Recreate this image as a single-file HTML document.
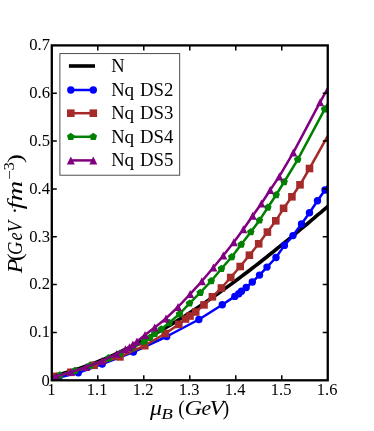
<!DOCTYPE html>
<html><head><meta charset="utf-8"><title>chart</title><style>html,body{margin:0;padding:0;background:#fff}body{width:374px;height:431px;overflow:hidden}</style></head><body>
<svg width="374" height="431" viewBox="0 0 374 431" style="display:block;will-change:transform;font-family:'Liberation Serif',serif">
<rect width="374" height="431" fill="#fff"/>
<defs><clipPath id="c"><rect x="51.80" y="45.40" width="275.95" height="334.90"/></clipPath></defs>
<g clip-path="url(#c)" fill="none" stroke-linejoin="round">
<polyline points="51.8,376.3 55.2,375.5 58.7,374.6 62.1,373.7 65.6,372.7 69.0,371.7 72.5,370.6 75.9,369.5 79.4,368.4 82.8,367.2 86.3,366.0 89.7,364.7 93.2,363.4 96.6,362.1 100.1,360.7 103.5,359.3 107.0,357.8 110.4,356.3 113.9,354.8 117.3,353.2 120.8,351.6 124.2,350.0 127.7,348.3 131.1,346.6 134.6,344.9 138.0,343.1 141.5,341.3 144.9,339.5 148.4,337.6 151.8,335.7 155.3,333.7 158.7,331.8 162.2,329.8 165.6,327.7 169.1,325.7 172.5,323.6 176.0,321.5 179.4,319.3 182.9,317.2 186.3,315.0 189.8,312.7 193.2,310.5 196.7,308.2 200.1,305.9 203.6,303.6 207.0,301.2 210.5,298.8 213.9,296.4 217.4,294.0 220.8,291.6 224.3,289.1 227.7,286.6 231.2,284.1 234.6,281.5 238.1,279.0 241.5,276.4 245.0,273.8 248.4,271.2 251.9,268.5 255.3,265.9 258.8,263.2 262.2,260.5 265.7,257.8 269.1,255.0 272.6,252.3 276.0,249.5 279.5,246.7 282.9,243.9 286.4,241.1 289.8,238.3 293.3,235.5 296.7,232.6 300.2,229.7 303.6,226.9 307.1,224.0 310.5,221.1 314.0,218.2 317.4,215.2 320.9,212.3 324.3,209.3 327.8,206.4" stroke="#000" stroke-width="3.6"/>
<polyline points="51.8,378.2 58.8,377.5 78.3,372.8 102.2,364.0 133.4,352.0 166.7,336.5 198.9,319.5 222.3,304.8 234.8,296.4 238.8,293.7 241.5,291.2 246.2,287.5 252.3,282.0 259.5,275.1 267.0,267.1 276.0,257.5 284.4,245.4 293.0,235.6 301.5,224.0 309.5,212.8 317.5,200.8 325.0,190.0 327.8,186.0" stroke="#0000ff" stroke-width="2.5"/>
<circle cx="58.8" cy="377.5" r="3.70" fill="#0000ff"/>
<circle cx="78.3" cy="372.8" r="3.70" fill="#0000ff"/>
<circle cx="102.2" cy="364.0" r="3.70" fill="#0000ff"/>
<circle cx="133.4" cy="352.0" r="3.70" fill="#0000ff"/>
<circle cx="166.7" cy="336.5" r="3.70" fill="#0000ff"/>
<circle cx="198.9" cy="319.5" r="3.70" fill="#0000ff"/>
<circle cx="222.3" cy="304.8" r="3.70" fill="#0000ff"/>
<circle cx="234.8" cy="296.4" r="3.70" fill="#0000ff"/>
<circle cx="238.8" cy="293.7" r="3.70" fill="#0000ff"/>
<circle cx="241.5" cy="291.2" r="3.70" fill="#0000ff"/>
<circle cx="246.2" cy="287.5" r="3.70" fill="#0000ff"/>
<circle cx="252.3" cy="282.0" r="3.70" fill="#0000ff"/>
<circle cx="259.5" cy="275.1" r="3.70" fill="#0000ff"/>
<circle cx="267.0" cy="267.1" r="3.70" fill="#0000ff"/>
<circle cx="276.0" cy="257.5" r="3.70" fill="#0000ff"/>
<circle cx="284.4" cy="245.4" r="3.70" fill="#0000ff"/>
<circle cx="293.0" cy="235.6" r="3.70" fill="#0000ff"/>
<circle cx="301.5" cy="224.0" r="3.70" fill="#0000ff"/>
<circle cx="309.5" cy="212.8" r="3.70" fill="#0000ff"/>
<circle cx="317.5" cy="200.8" r="3.70" fill="#0000ff"/>
<circle cx="325.0" cy="190.0" r="3.70" fill="#0000ff"/>
<polyline points="51.8,377.5 56.4,376.4 70.9,372.3 94.1,365.3 119.9,356.9 144.7,345.7 165.3,333.5 178.8,324.4 185.5,319.0 190.0,316.0 195.7,312.0 204.0,304.9 212.4,296.8 221.4,288.0 230.7,277.5 240.2,266.5 249.4,255.2 258.7,243.8 267.4,232.1 275.8,220.8 283.6,208.3 291.9,196.8 300.0,184.8 309.5,168.5 327.8,135.8" stroke="#a52a2a" stroke-width="2.5"/>
<rect x="52.6" y="372.6" width="7.6" height="7.6" fill="#a52a2a"/>
<rect x="67.1" y="368.5" width="7.6" height="7.6" fill="#a52a2a"/>
<rect x="90.3" y="361.5" width="7.6" height="7.6" fill="#a52a2a"/>
<rect x="116.1" y="353.1" width="7.6" height="7.6" fill="#a52a2a"/>
<rect x="140.9" y="341.9" width="7.6" height="7.6" fill="#a52a2a"/>
<rect x="161.5" y="329.7" width="7.6" height="7.6" fill="#a52a2a"/>
<rect x="175.0" y="320.6" width="7.6" height="7.6" fill="#a52a2a"/>
<rect x="181.7" y="315.2" width="7.6" height="7.6" fill="#a52a2a"/>
<rect x="186.2" y="312.2" width="7.6" height="7.6" fill="#a52a2a"/>
<rect x="191.9" y="308.2" width="7.6" height="7.6" fill="#a52a2a"/>
<rect x="200.2" y="301.1" width="7.6" height="7.6" fill="#a52a2a"/>
<rect x="208.6" y="293.0" width="7.6" height="7.6" fill="#a52a2a"/>
<rect x="217.6" y="284.2" width="7.6" height="7.6" fill="#a52a2a"/>
<rect x="226.9" y="273.7" width="7.6" height="7.6" fill="#a52a2a"/>
<rect x="236.4" y="262.7" width="7.6" height="7.6" fill="#a52a2a"/>
<rect x="245.6" y="251.4" width="7.6" height="7.6" fill="#a52a2a"/>
<rect x="254.9" y="240.0" width="7.6" height="7.6" fill="#a52a2a"/>
<rect x="263.6" y="228.3" width="7.6" height="7.6" fill="#a52a2a"/>
<rect x="272.0" y="217.0" width="7.6" height="7.6" fill="#a52a2a"/>
<rect x="279.8" y="204.5" width="7.6" height="7.6" fill="#a52a2a"/>
<rect x="288.1" y="193.0" width="7.6" height="7.6" fill="#a52a2a"/>
<rect x="296.2" y="181.0" width="7.6" height="7.6" fill="#a52a2a"/>
<rect x="305.7" y="164.7" width="7.6" height="7.6" fill="#a52a2a"/>
<polyline points="51.8,377.3 60.0,375.3 75.0,370.8 90.0,365.6 108.6,358.1 120.0,353.6 132.0,348.2 144.3,341.6 149.9,337.8 154.7,333.8 161.2,329.3 169.2,322.7 179.5,314.0 189.5,303.4 200.2,292.7 211.2,281.0 221.4,268.8 231.7,257.0 241.2,244.6 250.8,232.1 259.4,220.4 267.8,207.5 276.1,195.0 284.1,182.0 297.7,159.6 324.6,109.3 327.8,103.5" stroke="#008000" stroke-width="2.5"/>
<polygon points="60.0,371.3 63.8,374.0 62.4,378.5 57.6,378.5 56.2,374.0" fill="#008000"/>
<polygon points="75.0,366.8 78.8,369.6 77.4,374.1 72.6,374.1 71.2,369.6" fill="#008000"/>
<polygon points="90.0,361.6 93.8,364.4 92.4,368.8 87.6,368.8 86.2,364.4" fill="#008000"/>
<polygon points="108.6,354.1 112.4,356.9 111.0,361.4 106.2,361.4 104.8,356.9" fill="#008000"/>
<polygon points="120.0,349.6 123.8,352.4 122.4,356.8 117.6,356.8 116.2,352.4" fill="#008000"/>
<polygon points="132.0,344.2 135.8,346.9 134.4,351.4 129.6,351.4 128.2,346.9" fill="#008000"/>
<polygon points="144.3,337.6 148.1,340.4 146.7,344.8 141.9,344.8 140.5,340.4" fill="#008000"/>
<polygon points="149.9,333.8 153.7,336.6 152.3,341.0 147.5,341.0 146.1,336.6" fill="#008000"/>
<polygon points="154.7,329.8 158.5,332.6 157.1,337.0 152.3,337.0 150.9,332.6" fill="#008000"/>
<polygon points="161.2,325.3 165.0,328.1 163.6,332.5 158.8,332.5 157.4,328.1" fill="#008000"/>
<polygon points="169.2,318.7 173.0,321.5 171.6,325.9 166.8,325.9 165.4,321.5" fill="#008000"/>
<polygon points="179.5,310.0 183.3,312.8 181.9,317.2 177.1,317.2 175.7,312.8" fill="#008000"/>
<polygon points="189.5,299.4 193.3,302.2 191.9,306.6 187.1,306.6 185.7,302.2" fill="#008000"/>
<polygon points="200.2,288.7 204.0,291.5 202.6,295.9 197.8,295.9 196.4,291.5" fill="#008000"/>
<polygon points="211.2,277.0 215.0,279.8 213.6,284.2 208.8,284.2 207.4,279.8" fill="#008000"/>
<polygon points="221.4,264.8 225.2,267.6 223.8,272.0 219.0,272.0 217.6,267.6" fill="#008000"/>
<polygon points="231.7,253.0 235.5,255.8 234.1,260.2 229.3,260.2 227.9,255.8" fill="#008000"/>
<polygon points="241.2,240.6 245.0,243.4 243.6,247.8 238.8,247.8 237.4,243.4" fill="#008000"/>
<polygon points="250.8,228.1 254.6,230.9 253.2,235.3 248.4,235.3 247.0,230.9" fill="#008000"/>
<polygon points="259.4,216.4 263.2,219.2 261.8,223.6 257.0,223.6 255.6,219.2" fill="#008000"/>
<polygon points="267.8,203.5 271.6,206.3 270.2,210.7 265.4,210.7 264.0,206.3" fill="#008000"/>
<polygon points="276.1,191.0 279.9,193.8 278.5,198.2 273.7,198.2 272.3,193.8" fill="#008000"/>
<polygon points="284.1,178.0 287.9,180.8 286.5,185.2 281.7,185.2 280.3,180.8" fill="#008000"/>
<polygon points="297.7,155.6 301.5,158.4 300.1,162.8 295.3,162.8 293.9,158.4" fill="#008000"/>
<polygon points="324.6,105.3 328.4,108.1 327.0,112.5 322.2,112.5 320.8,108.1" fill="#008000"/>
<polyline points="51.8,377.3 56.4,376.2 70.9,372.1 86.1,367.0 102.0,360.9 116.7,354.0 125.5,349.2 129.5,347.3 132.9,344.6 137.0,341.4 145.0,335.0 154.7,327.4 166.0,318.4 178.0,307.0 190.1,294.1 201.8,281.3 213.4,267.5 223.3,255.5 233.8,242.2 243.4,229.3 252.7,215.7 261.4,203.5 270.2,190.0 279.3,176.4 293.3,152.6 320.1,102.2 327.8,88.4" stroke="#800080" stroke-width="2.5"/>
<polygon points="56.4,372.2 52.4,380.2 60.4,380.2" fill="#800080"/>
<polygon points="70.9,368.1 66.9,376.1 74.9,376.1" fill="#800080"/>
<polygon points="86.1,363.0 82.1,371.0 90.1,371.0" fill="#800080"/>
<polygon points="102.0,356.9 98.0,364.9 106.0,364.9" fill="#800080"/>
<polygon points="116.7,350.0 112.7,358.0 120.7,358.0" fill="#800080"/>
<polygon points="125.5,345.2 121.5,353.2 129.5,353.2" fill="#800080"/>
<polygon points="129.5,343.3 125.5,351.3 133.5,351.3" fill="#800080"/>
<polygon points="132.9,340.6 128.9,348.6 136.9,348.6" fill="#800080"/>
<polygon points="137.0,337.4 133.0,345.4 141.0,345.4" fill="#800080"/>
<polygon points="145.0,331.0 141.0,339.0 149.0,339.0" fill="#800080"/>
<polygon points="154.7,323.4 150.7,331.4 158.7,331.4" fill="#800080"/>
<polygon points="166.0,314.4 162.0,322.4 170.0,322.4" fill="#800080"/>
<polygon points="178.0,303.0 174.0,311.0 182.0,311.0" fill="#800080"/>
<polygon points="190.1,290.1 186.1,298.1 194.1,298.1" fill="#800080"/>
<polygon points="201.8,277.3 197.8,285.3 205.8,285.3" fill="#800080"/>
<polygon points="213.4,263.5 209.4,271.5 217.4,271.5" fill="#800080"/>
<polygon points="223.3,251.5 219.3,259.5 227.3,259.5" fill="#800080"/>
<polygon points="233.8,238.2 229.8,246.2 237.8,246.2" fill="#800080"/>
<polygon points="243.4,225.3 239.4,233.3 247.4,233.3" fill="#800080"/>
<polygon points="252.7,211.7 248.7,219.7 256.7,219.7" fill="#800080"/>
<polygon points="261.4,199.5 257.4,207.5 265.4,207.5" fill="#800080"/>
<polygon points="270.2,186.0 266.2,194.0 274.2,194.0" fill="#800080"/>
<polygon points="279.3,172.4 275.3,180.4 283.3,180.4" fill="#800080"/>
<polygon points="293.3,148.6 289.3,156.6 297.3,156.6" fill="#800080"/>
<polygon points="320.1,98.2 316.1,106.2 324.1,106.2" fill="#800080"/>
</g>
<path d="M97.79 380.30v-5M97.79 45.40v5M143.78 380.30v-5M143.78 45.40v5M189.78 380.30v-5M189.78 45.40v5M235.77 380.30v-5M235.77 45.40v5M281.76 380.30v-5M281.76 45.40v5M51.80 332.46h5M327.75 332.46h-5M51.80 284.61h5M327.75 284.61h-5M51.80 236.77h5M327.75 236.77h-5M51.80 188.93h5M327.75 188.93h-5M51.80 141.09h5M327.75 141.09h-5M51.80 93.24h5M327.75 93.24h-5" stroke="#000" stroke-width="1.5" fill="none"/>
<rect x="51.80" y="45.40" width="275.95" height="334.90" fill="none" stroke="#000" stroke-width="2.3"/>
<text x="51.5" y="394.8" font-size="16.6" text-anchor="middle">1</text>
<text x="86.8" y="394.8" font-size="16.6" textLength="20.6" lengthAdjust="spacingAndGlyphs">1.1</text>
<text x="132.8" y="394.8" font-size="16.6" textLength="20.6" lengthAdjust="spacingAndGlyphs">1.2</text>
<text x="178.8" y="394.8" font-size="16.6" textLength="20.6" lengthAdjust="spacingAndGlyphs">1.3</text>
<text x="224.8" y="394.8" font-size="16.6" textLength="20.6" lengthAdjust="spacingAndGlyphs">1.4</text>
<text x="270.8" y="394.8" font-size="16.6" textLength="20.6" lengthAdjust="spacingAndGlyphs">1.5</text>
<text x="316.8" y="394.8" font-size="16.6" textLength="20.6" lengthAdjust="spacingAndGlyphs">1.6</text>
<text x="49.8" y="385.6" font-size="16.6" text-anchor="end">0</text>
<text x="29.2" y="337.2" font-size="16.6" textLength="20.8" lengthAdjust="spacingAndGlyphs">0.1</text>
<text x="29.2" y="289.3" font-size="16.6" textLength="20.8" lengthAdjust="spacingAndGlyphs">0.2</text>
<text x="29.2" y="241.5" font-size="16.6" textLength="20.8" lengthAdjust="spacingAndGlyphs">0.3</text>
<text x="29.2" y="193.6" font-size="16.6" textLength="20.8" lengthAdjust="spacingAndGlyphs">0.4</text>
<text x="29.2" y="145.8" font-size="16.6" textLength="20.8" lengthAdjust="spacingAndGlyphs">0.5</text>
<text x="29.2" y="97.9" font-size="16.6" textLength="20.8" lengthAdjust="spacingAndGlyphs">0.6</text>
<text x="29.2" y="50.1" font-size="16.6" textLength="20.8" lengthAdjust="spacingAndGlyphs">0.7</text>
<rect x="59.9" y="53.6" width="119.8" height="121.6" fill="#fff" stroke="#3a3a3a" stroke-width="0.9"/>
<path d="M68.9 66H95" stroke="#000" stroke-width="3.6"/>
<path d="M70.8 90.0H93.3" stroke="#0000ff" stroke-width="2.5"/>
<circle cx="70.8" cy="90.0" r="3.70" fill="#0000ff"/>
<circle cx="93.3" cy="90.0" r="3.70" fill="#0000ff"/>
<path d="M70.8 113.2H93.3" stroke="#a52a2a" stroke-width="2.5"/>
<rect x="67.0" y="109.4" width="7.6" height="7.6" fill="#a52a2a"/>
<rect x="89.5" y="109.4" width="7.6" height="7.6" fill="#a52a2a"/>
<path d="M70.8 136.8H93.3" stroke="#008000" stroke-width="2.5"/>
<polygon points="70.8,132.8 74.6,135.6 73.2,140.0 68.4,140.0 67.0,135.6" fill="#008000"/>
<polygon points="93.3,132.8 97.1,135.6 95.7,140.0 90.9,140.0 89.5,135.6" fill="#008000"/>
<path d="M70.8 160.4H93.3" stroke="#800080" stroke-width="2.5"/>
<polygon points="70.8,156.4 66.8,164.4 74.8,164.4" fill="#800080"/>
<polygon points="93.3,156.4 89.3,164.4 97.3,164.4" fill="#800080"/>
<text x="111.3" y="71.8" font-size="17.8" textLength="13.4" lengthAdjust="spacingAndGlyphs">N</text>
<text x="111.3" y="95.8" font-size="17.8" textLength="13.4" lengthAdjust="spacingAndGlyphs">N</text>
<text x="124.6" y="95.8" font-size="17.8" textLength="9.6" lengthAdjust="spacingAndGlyphs">q</text>
<text x="140.0" y="95.8" font-size="17.8" textLength="33.4" lengthAdjust="spacingAndGlyphs">DS2</text>
<text x="111.3" y="119.0" font-size="17.8" textLength="13.4" lengthAdjust="spacingAndGlyphs">N</text>
<text x="124.6" y="119.0" font-size="17.8" textLength="9.6" lengthAdjust="spacingAndGlyphs">q</text>
<text x="140.0" y="119.0" font-size="17.8" textLength="33.4" lengthAdjust="spacingAndGlyphs">DS3</text>
<text x="111.3" y="142.6" font-size="17.8" textLength="13.4" lengthAdjust="spacingAndGlyphs">N</text>
<text x="124.6" y="142.6" font-size="17.8" textLength="9.6" lengthAdjust="spacingAndGlyphs">q</text>
<text x="140.0" y="142.6" font-size="17.8" textLength="33.4" lengthAdjust="spacingAndGlyphs">DS4</text>
<text x="111.3" y="166.2" font-size="17.8" textLength="13.4" lengthAdjust="spacingAndGlyphs">N</text>
<text x="124.6" y="166.2" font-size="17.8" textLength="9.6" lengthAdjust="spacingAndGlyphs">q</text>
<text x="140.0" y="166.2" font-size="17.8" textLength="33.4" lengthAdjust="spacingAndGlyphs">DS5</text>
<g font-style="italic" font-size="21">
<text x="150.0" y="414.8" font-size="21" textLength="12" lengthAdjust="spacingAndGlyphs">μ</text>
<text x="161.2" y="419.2" font-size="15" textLength="11.6" lengthAdjust="spacingAndGlyphs">B</text>
<text x="178.3" y="414.8" font-style="normal" textLength="6.4" lengthAdjust="spacingAndGlyphs">(</text>
<text x="184.4" y="414.8" textLength="17.6" lengthAdjust="spacingAndGlyphs">G</text>
<text x="201.6" y="414.8" textLength="9.6" lengthAdjust="spacingAndGlyphs">e</text>
<text x="209.5" y="414.8" textLength="14.6" lengthAdjust="spacingAndGlyphs">V</text>
<text x="222.8" y="414.8" font-style="normal" textLength="6.4" lengthAdjust="spacingAndGlyphs">)</text>
</g>
<g transform="translate(22.3,273) rotate(-90)" font-style="italic" font-size="21">
<text x="-0.3" y="0" textLength="14.5" lengthAdjust="spacingAndGlyphs">P</text>
<text x="12.0" y="0" font-style="normal" textLength="7.8" lengthAdjust="spacingAndGlyphs">(</text>
<text x="18.0" y="0" textLength="13.4" lengthAdjust="spacingAndGlyphs">G</text>
<text x="32.6" y="0" textLength="8.2" lengthAdjust="spacingAndGlyphs">e</text>
<text x="40.6" y="0" textLength="11.6" lengthAdjust="spacingAndGlyphs">V</text>
<text x="59.6" y="0">·</text>
<text x="63.8" y="0" textLength="28.4" lengthAdjust="spacingAndGlyphs">fm</text>
<text x="93.2" y="-8.2" font-size="14.6" font-style="normal" textLength="17.8" lengthAdjust="spacingAndGlyphs">−3</text>
<text x="110.0" y="0" font-style="normal" textLength="9" lengthAdjust="spacingAndGlyphs">)</text>
</g>
</svg>
</body></html>
